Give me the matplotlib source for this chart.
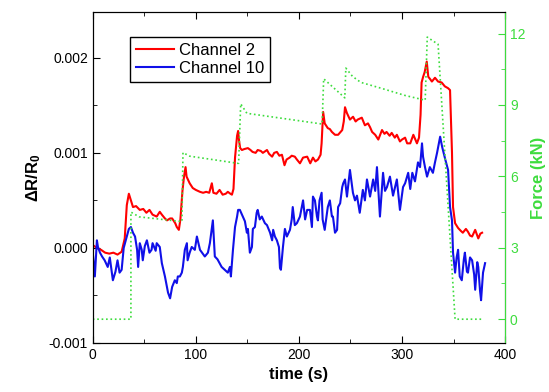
import numpy as np
import matplotlib
matplotlib.use('Agg')
from matplotlib import pyplot as plt
from matplotlib.ticker import MultipleLocator, FormatStrFormatter

plt.rcParams['font.family'] = ['Liberation Sans', 'DejaVu Sans']
plt.rcParams['mathtext.fontset'] = 'custom'
plt.rcParams['mathtext.rm'] = 'Liberation Sans'
plt.rcParams['mathtext.bf'] = 'Liberation Sans:bold'

# Channel 2 (dR/R0, in units of 1e-3)
t_ch2 = [0, 4, 8, 12, 16, 20, 24, 28, 31, 33, 35, 37, 39, 42, 45.6, 49, 52, 55, 58, 62,
         65, 67, 70, 72, 75, 77, 80, 81.5, 83.5, 85, 87, 88.5, 90, 91, 94, 97, 100, 104, 107, 110,
         113, 115.5, 117, 120, 123, 126, 129, 131, 133.5, 135, 136.5, 138, 140, 141, 142, 143, 144.7, 147, 150.5, 153,
         155, 158, 160, 163, 165, 169, 171, 174, 176, 178.6, 181, 183.5, 186, 188, 191, 193, 196, 198, 201, 204,
         208, 211, 213.6, 216, 218.5, 221, 222, 223.5, 225, 228, 230, 232, 235, 238, 242, 243.5, 244.7, 246.5, 249.5, 252.5,
         255, 257, 261, 264, 267, 269, 271, 274, 277, 280.6, 283, 285, 288, 290, 293, 295, 298, 300, 303, 305,
         308, 311, 314.5, 316.5, 318, 319, 320.5, 322, 324, 325.5, 327, 329, 332, 335, 338.5, 341.5, 344.7, 346.6, 348.5, 349.5,
         351.5, 354.4, 357, 359, 362, 364, 366, 368, 371, 374, 376, 377.7]
ch2 = [0.03, 0.0, -0.02, -0.05, -0.06, -0.05, -0.07, -0.04, 0.10, 0.45, 0.57, 0.50, 0.43, 0.44, 0.40, 0.41, 0.37, 0.40, 0.35, 0.33,
       0.38, 0.35, 0.31, 0.29, 0.31, 0.31, 0.26, 0.22, 0.19, 0.30, 0.60, 0.75, 0.85, 0.75, 0.68, 0.63, 0.61, 0.59, 0.58, 0.59,
       0.58, 0.68, 0.58, 0.57, 0.61, 0.56, 0.57, 0.59, 0.57, 0.56, 0.62, 0.95, 1.18, 1.23, 1.12, 1.05, 1.03, 1.04, 1.05, 1.03,
       1.01, 1.00, 1.03, 1.02, 1.00, 1.03, 0.99, 0.96, 1.00, 1.01, 0.97, 0.98, 0.87, 0.93, 0.95, 0.97, 0.96, 0.93, 0.89, 0.95,
       0.96, 0.89, 0.95, 0.91, 0.93, 0.98, 1.10, 1.43, 1.31, 1.26, 1.25, 1.22, 1.19, 1.19, 1.24, 1.33, 1.48, 1.42, 1.35, 1.38,
       1.33, 1.35, 1.37, 1.29, 1.31, 1.27, 1.22, 1.19, 1.14, 1.24, 1.20, 1.22, 1.18, 1.21, 1.16, 1.19, 1.12, 1.14, 1.16, 1.10,
       1.10, 1.19, 1.10, 1.16, 1.40, 1.74, 1.80, 1.85, 1.96, 1.80, 1.78, 1.75, 1.79, 1.75, 1.74, 1.70, 1.68, 1.66, 1.00, 0.43,
       0.26, 0.21, 0.18, 0.16, 0.20, 0.17, 0.13, 0.12, 0.19, 0.10, 0.15, 0.16]

# Channel 10 (dR/R0, in units of 1e-3)
t_ch10 = [0, 2, 4, 5, 7, 9, 11.5, 14.5, 16.5, 19.5, 22, 24, 26, 28, 30, 33, 35, 37, 39, 41,
          43, 44, 45.6, 47.5, 48.5, 50.5, 52.5, 55, 57, 58, 61, 62, 65, 67, 70, 73, 75, 77, 79.6, 81.5,
          82.5, 84.5, 86.4, 87.4, 89.3, 91.3, 92, 94, 96, 99, 101, 104, 106, 108.7, 111.7, 113.6, 116.5, 118.4, 121, 123,
          125, 128, 131, 133, 134, 136, 138, 140, 141, 142.7, 144.7, 145.6, 147.6, 149.5, 150.5, 152.4, 154.4, 155.3, 157.3, 159,
          160, 162, 164, 167, 169, 172, 174, 175, 176.7, 178.6, 180.6, 181.6, 182.5, 184.5, 186.4, 188.3, 191.3, 193, 194, 196,
          198, 201, 204, 206, 208, 210.7, 212.6, 213.6, 215.5, 217.5, 218.4, 220, 222, 223, 225, 227, 228, 230, 232, 233,
          235, 237, 238, 240, 242, 243, 244.7, 246.6, 249.5, 252.4, 254.4, 256.3, 259, 262, 264, 266, 269, 272, 274, 275.7,
          278.6, 281.6, 283.5, 285.4, 288.3, 291.3, 295, 298, 301, 303, 306, 308, 310, 312.6, 315.5, 317.5, 319.4, 320.4, 322.3, 324.3,
          327, 330, 332, 334, 337, 339, 342, 344.7, 346.6, 348.5, 349.5, 351.5, 353, 354.4, 356, 358, 360, 361, 363, 364,
          366, 368, 370, 371, 373, 374, 375.7, 376.7, 378.6, 380.6]
ch10 = [-0.05, -0.30, 0.08, 0.01, -0.05, -0.09, -0.13, -0.20, -0.10, -0.34, -0.25, -0.13, -0.26, -0.23, 0.0, 0.12, 0.20, 0.22, 0.16, 0.12,
        -0.02, -0.20, 0.05, -0.02, -0.13, 0.02, 0.08, -0.05, -0.02, 0.05, -0.03, 0.05, 0.01, -0.16, -0.30, -0.47, -0.53, -0.41, -0.34, -0.37,
        -0.30, -0.30, -0.26, -0.20, -0.02, 0.05, -0.13, -0.05, 0.01, -0.02, 0.12, -0.02, -0.05, -0.09, -0.05, 0.05, 0.29, -0.09, -0.12, -0.16,
        -0.20, -0.23, -0.26, -0.20, -0.30, -0.02, 0.22, 0.33, 0.40, 0.40, 0.35, 0.33, 0.28, 0.16, 0.20, -0.05, 0.01, 0.20, 0.22, 0.37,
        0.40, 0.30, 0.33, 0.26, 0.24, 0.16, 0.08, 0.19, 0.12, 0.08, 0.01, -0.21, -0.23, 0.01, 0.20, 0.12, 0.19, 0.30, 0.43, 0.24,
        0.26, 0.33, 0.50, 0.30, 0.40, 0.40, 0.22, 0.54, 0.50, 0.33, 0.29, 0.50, 0.58, 0.30, 0.19, 0.35, 0.43, 0.50, 0.33, 0.33,
        0.16, 0.19, 0.43, 0.47, 0.64, 0.68, 0.72, 0.54, 0.82, 0.58, 0.50, 0.55, 0.37, 0.61, 0.50, 0.72, 0.54, 0.72, 0.60, 0.85,
        0.33, 0.79, 0.60, 0.64, 0.75, 0.55, 0.72, 0.40, 0.64, 0.68, 0.79, 0.62, 0.79, 0.70, 0.90, 0.85, 1.10, 0.96, 0.85, 0.75,
        0.85, 0.79, 0.90, 1.00, 1.17, 1.06, 0.93, 0.82, 0.43, 0.29, -0.05, -0.26, -0.10, -0.02, -0.30, -0.34, -0.12, -0.05, -0.25, -0.26,
        -0.10, -0.13, -0.28, -0.44, -0.15, -0.20, -0.45, -0.55, -0.26, -0.16]

# Force (kN)
t_force = [0, 37, 37, 45, 86.5, 87.5, 94, 140.5, 141.5, 143.5, 149.5, 222.5, 224, 244.5, 245.5,
           252, 260, 280, 303, 322.5, 324.5, 335, 351.5, 377]
force = [0, 0, 4.5, 4.3, 4.1, 7.0, 6.85, 6.55, 6.55, 9.05, 8.65, 8.2, 10.1, 9.3, 10.55,
         10.2, 9.95, 9.7, 9.4, 9.2, 11.85, 11.55, 0, 0]

green = '#3ddc3d'

fig = plt.figure(figsize=(5.49, 3.92), dpi=100)
ax = fig.add_axes([0.169, 0.125, 0.751, 0.844])

ax.plot(t_ch2, np.array(ch2) * 1e-3, c='#ff0000', lw=1.5, label='Channel 2')
ax.plot(t_ch10, np.array(ch10) * 1e-3, c='#1010e8', lw=1.5, label='Channel 10')

ax.set_xlim(0, 400)
ax.set_ylim(-0.001, 0.00248)
ax.xaxis.set_major_locator(MultipleLocator(100))
ax.xaxis.set_minor_locator(MultipleLocator(50))
ax.yaxis.set_major_locator(MultipleLocator(0.001))
ax.yaxis.set_minor_locator(MultipleLocator(0.0005))
ax.yaxis.set_major_formatter(FormatStrFormatter('%.3f'))
ax.tick_params(which='both', direction='in', top=True, labelsize=10)
ax.tick_params(which='major', length=5)
ax.tick_params(which='minor', length=3)
ax.set_xlabel('time (s)', fontsize=12, fontweight='bold')
ax.set_ylabel(r'$\mathbf{\Delta R/R_0}$', fontsize=12)

leg = ax.legend(loc='upper left', bbox_to_anchor=(0.09, 0.925), borderaxespad=0,
                fontsize=12, fancybox=False, edgecolor='black', framealpha=1,
                borderpad=0.35, labelspacing=0.2, handlelength=2.3, handletextpad=0.3)
leg.get_frame().set_linewidth(1.0)

ax2 = ax.twinx()
ax2.plot(t_force, force, c=green, lw=1.2, ls=':')
ax2.set_ylim(-1, 12.9)
ax2.yaxis.set_major_locator(MultipleLocator(3))
ax2.yaxis.set_minor_locator(MultipleLocator(1.5))
ax2.tick_params(axis='y', which='both', direction='in', colors=green, labelsize=10)
ax2.tick_params(axis='y', which='major', length=5)
ax2.tick_params(axis='y', which='minor', length=3)
ax2.spines['right'].set_color(green)
ax2.set_ylabel('Force (kN)', fontsize=12, fontweight='bold', color=green)

plt.savefig('out.png', dpi=100)
